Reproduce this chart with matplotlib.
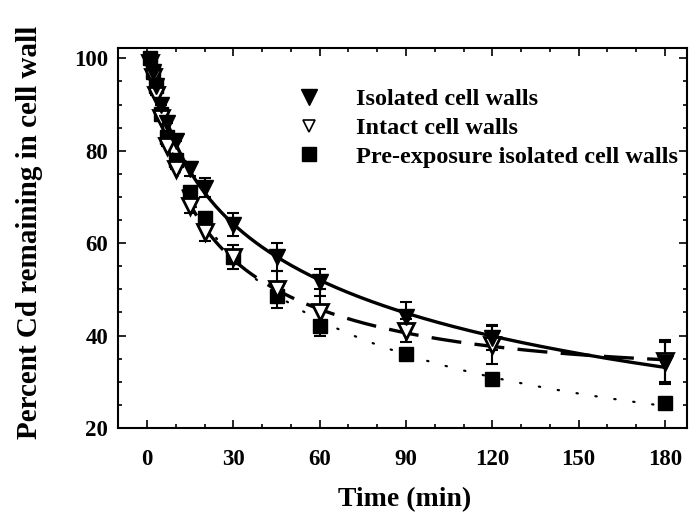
import matplotlib
matplotlib.use("Agg")
import matplotlib.pyplot as plt
from matplotlib.lines import Line2D
from matplotlib.ticker import MultipleLocator
import numpy as np

plt.rcParams["font.family"] = ["Liberation Serif", "DejaVu Serif"]

# sampling times (min)
time = np.array([1, 2, 3, 5, 7, 10, 15, 20, 30, 45, 60, 90, 120, 180])

# percent Cd remaining
isolated = np.array([99, 97, 94, 90, 86, 82, 76, 72, 64, 57, 51.5, 44, 39.5, 34])
isolated_err = np.array([0, 0, 0, 0, 0, 0, 1.5, 2, 2.5, 3, 3, 3.3, 2.6, 4.5])
intact = np.array([99, 96, 92, 87, 81, 76, 68, 62.5, 57, 50, 45, 41, 38, 34.5])
intact_err = np.array([0, 0, 0, 0, 0, 0, 1.5, 2, 2.5, 4, 5, 2.5, 4.2, 4.5])
preexp = np.array([100, 97, 94, 88, 83, 78, 71, 65.5, 57, 48.5, 42, 36, 30.5, 25.5])

labels = ["Isolated cell walls", "Intact cell walls",
          "Pre-exposure isolated cell walls"]


def fitted(t, y, grid):
    # smooth curve through the data, cubic in log(time)
    c = np.polyfit(np.log(t), y, 3)
    return np.polyval(c, np.log(grid))


fig = plt.figure(figsize=(6.94, 5.29), dpi=100)
ax = fig.add_axes([0.170, 0.191, 0.820, 0.718])

grid = np.linspace(1, 180, 400)
ax.plot(grid, fitted(time, isolated, grid), color="black", lw=2.4,
        solid_capstyle="round", zorder=2)
ax.plot(grid, fitted(time, intact, grid), color="black", lw=2.4,
        dashes=(9, 4), zorder=2)
ax.plot(grid, fitted(time, preexp, grid), color="black", lw=1.6,
        dashes=(0.6, 8), dash_capstyle="round", zorder=2)

ax.errorbar(time, intact, yerr=intact_err, fmt="none", ecolor="black",
            elinewidth=1.5, capsize=4, capthick=1.5, zorder=3)
ax.errorbar(time, isolated, yerr=isolated_err, fmt="none", ecolor="black",
            elinewidth=1.5, capsize=4, capthick=1.5, zorder=3)

ax.plot(time, preexp, ls="none", marker="s", ms=10, color="black", zorder=4)
ax.plot(time, intact, ls="none", marker="v", ms=11, mfc="white",
        mec="black", mew=2, zorder=5)
ax.plot(time, isolated, ls="none", marker="v", ms=11, color="black", zorder=6)

handles = [
    Line2D([], [], ls="none", marker="v", ms=11, color="black"),
    Line2D([], [], ls="none", marker="v", ms=8, mfc="white", mec="black", mew=1.2),
    Line2D([], [], ls="none", marker="s", ms=10, color="black"),
]
leg = ax.legend(handles, labels, loc="upper left",
                bbox_to_anchor=(0.293, 0.92), frameon=False,
                prop={"size": 17.5, "weight": "bold"}, handlelength=1.2,
                handletextpad=1.35, labelspacing=0.28, borderaxespad=0)

ax.set_xlim(-10.1, 187.7)
ax.set_ylim(20, 102.2)
ax.xaxis.set_major_locator(MultipleLocator(30))
ax.xaxis.set_minor_locator(MultipleLocator(10))
ax.yaxis.set_major_locator(MultipleLocator(20))
ax.yaxis.set_minor_locator(MultipleLocator(5))
ax.tick_params(which="both", direction="in", top=True, right=True, width=1.2)
ax.tick_params(which="major", length=6, labelsize=16.5)
ax.tick_params(axis="x", which="major", pad=15)
ax.tick_params(axis="y", which="major", pad=7)
ax.tick_params(which="minor", length=3)
for lab in ax.get_xticklabels() + ax.get_yticklabels():
    lab.set_fontweight("bold")
for s in ax.spines.values():
    s.set_linewidth(1.5)

fig.text(405 / 694, 1 - 500 / 529, "Time (min)", fontsize=20,
         fontweight="bold", ha="center", va="center")
fig.text(30 / 694, 1 - 232 / 529, "Percent Cd remaining in cell wall",
         fontsize=21, fontweight="bold", rotation=90, ha="center", va="center")

fig.savefig("out.png", dpi=100)
